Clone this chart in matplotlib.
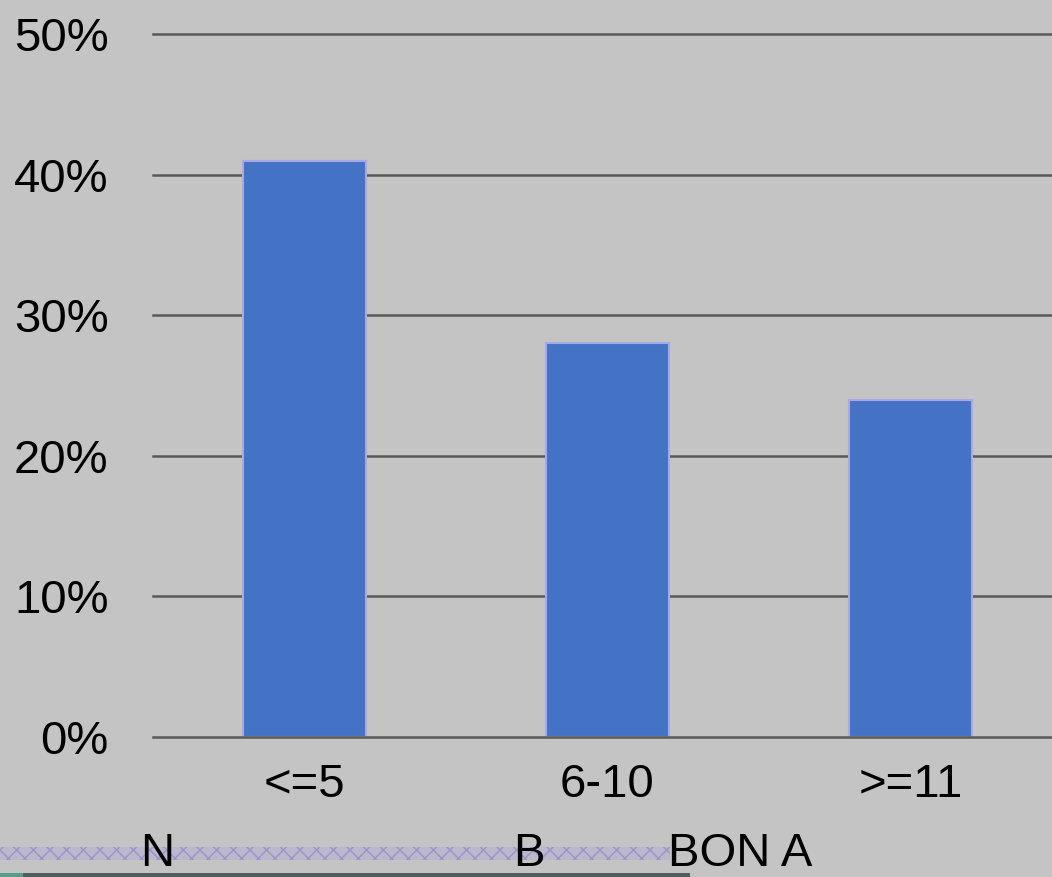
import matplotlib.pyplot as plt
from matplotlib.patches import Rectangle

# data
categories = ['<=5', '6-10', '>=11']
values = [0.41, 0.28, 0.24]
yticks = [0, 0.1, 0.2, 0.3, 0.4, 0.5]
ytick_labels = ['0%', '10%', '20%', '30%', '40%', '50%']
bottom_words = ['N', 'B', 'BON A']
bottom_x = [0.133, 0.488, 0.635]

plt.rcParams['font.family'] = ['Liberation Sans', 'DejaVu Sans']
bg = '#c4c4c4'

fig = plt.figure(figsize=(10.52, 8.77), dpi=100, facecolor=bg)
ax = fig.add_axes([153 / 1052, 140 / 877, 909 / 1052, 703 / 877])
ax.set_facecolor(bg)

ax.bar(range(len(categories)), values, width=0.405, color='#4472c4',
       edgecolor='#a9a8e6', linewidth=1.5, zorder=3)

ax.set_xlim(-0.5, 2.5)
ax.set_ylim(0, 0.5)
ax.set_yticks(yticks)
ax.set_yticklabels(ytick_labels)
ax.set_xticks(range(len(categories)))
ax.set_xticklabels(categories)
ax.tick_params(axis='both', length=0, labelsize=34, colors='black')
ax.tick_params(axis='y', pad=32)
ax.tick_params(axis='x', pad=19)
for s in ax.spines.values():
    s.set_visible(False)
for t in yticks:
    ax.axhline(t, color='#595959', linewidth=1.8, zorder=0 if t else 4, clip_on=False)

# noisy strip and garbled text at the bottom
fig.patches.append(Rectangle((0, 17 / 877), 670 / 1052, 13 / 877, transform=fig.transFigure,
                             facecolor='#b8b3cf', edgecolor='#9488c8', hatch='\\\\//',
                             linewidth=0, alpha=0.75))
fig.patches.append(Rectangle((0, 0), 690 / 1052, 4 / 877, transform=fig.transFigure,
                             facecolor='#4f5e5e', linewidth=0))
fig.patches.append(Rectangle((0, 0), 23 / 1052, 4 / 877, transform=fig.transFigure,
                             facecolor='#5a9a8a', linewidth=0))
for w, x in zip(bottom_words, bottom_x):
    fig.text(x, 11 / 877, w, fontsize=34, ha='left', va='baseline', color='black')

fig.savefig('out.png', dpi=100, facecolor=bg)
